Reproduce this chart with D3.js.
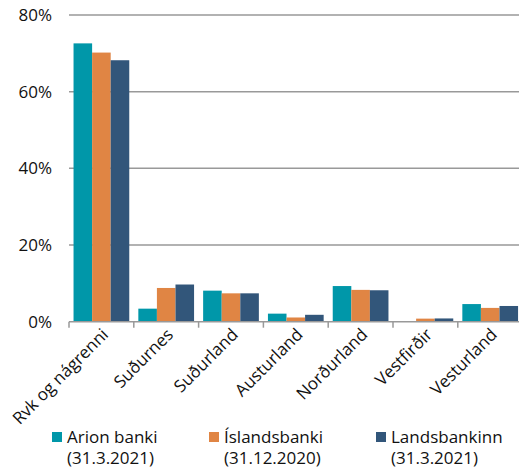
<!DOCTYPE html>
<html>
<head>
<meta charset="utf-8">
<script src="https://cdn.jsdelivr.net/npm/d3@7"></script>
<style>
  body { margin: 0; background: #fff; }
  text { font-family: "Open Sans", sans-serif; fill: #111; }
</style>
</head>
<body>
<div id="chart"></div>
<script>
// Regions and shares (%) per bank
const regions = ["Rvk og nágrenni", "Suðurnes", "Suðurland", "Austurland", "Norðurland", "Vestfirðir", "Vesturland"];
const arion = [72.6, 3.4, 8.1, 2.1, 9.3, 0, 4.6];
const islandsbanki = [70.2, 8.8, 7.4, 1.1, 8.3, 0.8, 3.6];
const landsbankinn = [68.2, 9.7, 7.4, 1.8, 8.2, 0.85, 4.1];
const seriesNames = ["Arion banki", "Íslandsbanki", "Landsbankinn"];
const seriesDates = ["(31.3.2021)", "(31.12.2020)", "(31.3.2021)"];
const yTicks = [0, 20, 40, 60, 80];

const colors = ["#0097a9", "#e08544", "#32567a"];
const seriesData = [arion, islandsbanki, landsbankinn];

const W = 519, H = 470;
const svg = d3.select("#chart").append("svg")
  .attr("width", W).attr("height", H);

const x0 = d3.scaleBand().domain(regions).range([69, 522.6]).paddingInner(0.14).paddingOuter(0.07);
const x1 = d3.scaleBand().domain(seriesNames).range([0, x0.bandwidth()]);
const y = d3.scaleLinear().domain([0, 80]).range([321.7, 15]);

// gridlines
svg.append("g")
  .selectAll("line")
  .data(yTicks.filter(d => d > 0))
  .join("line")
  .attr("x1", 69).attr("x2", W)
  .attr("y1", d => y(d)).attr("y2", d => y(d))
  .attr("stroke", "#999").attr("stroke-width", 1.5);

// y labels
svg.append("g")
  .selectAll("text")
  .data(yTicks)
  .join("text")
  .attr("x", 52)
  .attr("y", d => y(d))
  .attr("dy", "0.35em")
  .attr("text-anchor", "end")
  .style("font-size", "17px")
  .text(d => d + "%");

// bars
const groups = svg.append("g")
  .selectAll("g")
  .data(regions)
  .join("g")
  .attr("transform", d => `translate(${x0(d)},0)`);

groups.selectAll("rect")
  .data((r, i) => seriesNames.map((s, k) => ({ s, k, v: seriesData[k][i] })))
  .join("rect")
  .attr("x", d => x1(d.s))
  .attr("width", x1.bandwidth())
  .attr("y", d => y(d.v))
  .attr("height", d => y(0) - y(d.v))
  .attr("fill", d => colors[d.k]);

// x axis line and ticks
const step = x0.step();
svg.append("line")
  .attr("x1", 69).attr("x2", W)
  .attr("y1", y(0)).attr("y2", y(0))
  .attr("stroke", "#999").attr("stroke-width", 1.5);

svg.append("g")
  .selectAll("line")
  .data(d3.range(regions.length + 1))
  .join("line")
  .attr("x1", i => 69 + i * step).attr("x2", i => 69 + i * step)
  .attr("y1", y(0)).attr("y2", y(0) + 6)
  .attr("stroke", "#999").attr("stroke-width", 1.5);

// x labels
svg.append("g")
  .selectAll("text")
  .data(regions)
  .join("text")
  .attr("transform", d => `translate(${x0(d) + x0.bandwidth() / 2 + 8},${y(0) + 14}) rotate(-45)`)
  .attr("text-anchor", "end")
  .style("font-size", "17px")
  .text(d => d);

// legend
const legendX = [52, 209, 376];
const leg = svg.append("g")
  .selectAll("g")
  .data(seriesNames)
  .join("g")
  .attr("transform", (d, i) => `translate(${legendX[i]},432)`);

leg.append("rect")
  .attr("width", 10).attr("height", 10)
  .attr("fill", (d, i) => colors[i]);

leg.append("text")
  .attr("x", 15).attr("y", 11)
  .style("font-size", "17px")
  .text(d => d);

leg.append("text")
  .attr("x", 15).attr("y", 32)
  .style("font-size", "17px")
  .text((d, i) => seriesDates[i]);
</script>
</body>
</html>
